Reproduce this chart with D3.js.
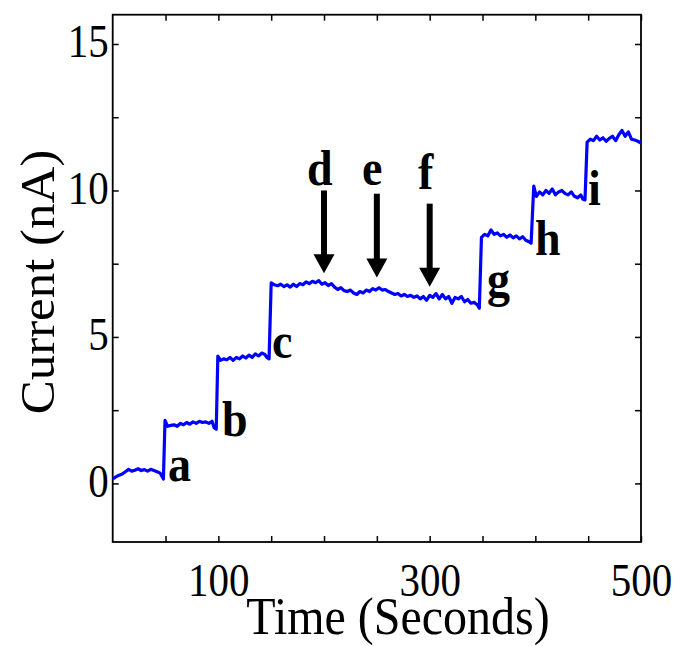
<!DOCTYPE html>
<html>
<head>
<meta charset="utf-8">
<script src="https://cdn.jsdelivr.net/npm/d3@7"></script>
<style>
  body { margin: 0; background: #fff; }
  text { font-family: "Liberation Serif", "Times New Roman", serif; }
</style>
</head>
<body>
<div id="chart-area"></div>
<script>

// current trace (seconds, nA)
let time = [
  0, 3, 6, 9, 12, 15, 18, 21, 24, 27, 30, 33, 36, 39, 42, 45, 48,
  49.5, 52, 55, 58, 61, 64, 67, 70, 73, 76, 79, 82, 85, 88, 91, 94, 96, 98,
  99.5, 102, 105, 108, 111, 114, 117, 120, 123, 126, 129, 132, 135, 138, 141, 144, 146, 148,
  150, 153, 156, 159, 162, 165, 168, 171, 174, 177, 180, 183, 186, 189, 192, 195, 198, 201, 204, 207,
  210, 213, 216, 219, 222, 225, 228, 231, 234, 237, 240, 243, 246, 249, 252, 255, 258, 261, 264, 267,
  270, 273, 276, 279, 282, 285, 288, 291, 294, 297, 300, 303, 306, 309, 312, 315, 318, 321, 324, 327,
  330, 333, 336, 339, 342, 345, 347,
  349, 352, 355, 358, 361, 364, 367, 370, 373, 376, 379, 382, 385, 388, 391, 394, 396,
  398.5, 401, 404, 407, 410, 413, 416, 419, 422, 425, 428, 431, 434, 437, 440, 443, 445, 447,
  449, 452, 455, 458, 461, 464, 467, 470, 473, 476, 479, 482, 485, 488, 491, 494, 497, 500
];

let current = [
  0.15, 0.22, 0.28, 0.32, 0.40, 0.48, 0.42, 0.45, 0.50, 0.44, 0.47, 0.42, 0.48, 0.44, 0.40, 0.35, 0.15,
  2.15, 1.95, 1.98, 2.00, 1.95, 2.05, 2.00, 2.08, 2.02, 2.10, 2.05, 2.12, 2.08, 2.10, 2.05, 2.12, 1.90, 1.85,
  4.35, 4.20, 4.25, 4.22, 4.30, 4.20, 4.30, 4.25, 4.35, 4.28, 4.38, 4.30, 4.42, 4.35, 4.45, 4.40, 4.30, 4.25,
  6.85, 6.78, 6.75, 6.80, 6.72, 6.78, 6.70, 6.80, 6.72, 6.82, 6.78, 6.88, 6.82, 6.90, 6.85, 6.92, 6.80, 6.85, 6.75, 6.82,
  6.70, 6.62, 6.68, 6.58, 6.55, 6.60, 6.50, 6.45, 6.55, 6.50, 6.60, 6.55, 6.65, 6.60, 6.68, 6.60, 6.62, 6.55, 6.50, 6.45,
  6.48, 6.40, 6.45, 6.38, 6.42, 6.35, 6.40, 6.30, 6.38, 6.25, 6.42, 6.35, 6.48, 6.30, 6.45, 6.30, 6.38, 6.15, 6.35, 6.30,
  6.38, 6.20, 6.28, 6.15, 6.18, 6.10, 5.98,
  8.40, 8.50, 8.45, 8.65, 8.50, 8.55, 8.45, 8.50, 8.40, 8.48, 8.38, 8.45, 8.35, 8.42, 8.30, 8.25, 8.20,
  10.15, 9.80, 9.95, 9.85, 10.00, 9.90, 10.05, 9.85, 9.95, 10.00, 9.90, 9.85, 9.95, 9.80, 9.75, 9.85, 9.70, 9.68,
  11.65, 11.75, 11.70, 11.85, 11.72, 11.80, 11.68, 11.78, 11.85, 11.70, 11.90, 12.05, 11.85, 12.00, 11.75, 11.72, 11.68, 11.62
];

// tick values
let xTicks = [50, 100, 150, 200, 250, 300, 350, 400, 450, 500];
let xTickLabels = [100, 300, 500];
let yTicks = [0, 2.5, 5, 7.5, 10, 12.5, 15];
let yTickLabels = [0, 5, 10, 15];

// letter annotations (anchor in data units)
let labelText = ["a", "b", "c", "d", "e", "f", "g", "h", "i"];
let labelTime = [52.3, 103.4, 150.8, 183.9, 235.9, 288.9, 354.2, 399.7, 449.8];
let labelCurrent = [0.09, 1.62, 4.28, 10.2, 10.2, 10.04, 6.39, 7.79, 9.49];

// arrows at d, e, f
let arrowTime = [200, 250, 300];
let arrowTop = [10.0, 9.89, 9.55];
let arrowTip = [7.17, 7.03, 6.71];

let width = 676,
    height = 646;
let margin = {top: 14.7, right: 35, bottom: 104, left: 112.7};
let w = width - margin.left - margin.right,
    h = height - margin.top - margin.bottom;

let svg = d3.select("#chart-area").append("svg")
    .attr("width", width)
    .attr("height", height);

let g = svg.append("g")
    .attr("transform", "translate(" + margin.left + "," + margin.top + ")");

let x = d3.scaleLinear().domain([0, 500]).range([0, w]);
let y = d3.scaleLinear().domain([-2, 16]).range([h, 0]);

// ticks on all four sides, pointing inward
function tickFmt(list) {
  return function(d) { return list.indexOf(d) >= 0 ? d : ""; };
}

let xAxis = g.append("g")
    .attr("transform", "translate(0," + h + ")")
    .call(d3.axisBottom(x).tickValues(xTicks).tickSize(-6).tickFormat(tickFmt(xTickLabels)));
let xTop = g.append("g")
    .call(d3.axisTop(x).tickValues(xTicks).tickSize(-6).tickFormat(""));
let yAxis = g.append("g")
    .call(d3.axisLeft(y).tickValues(yTicks).tickSize(-6).tickFormat(tickFmt(yTickLabels)));
let yRight = g.append("g")
    .attr("transform", "translate(" + w + ",0)")
    .call(d3.axisRight(y).tickValues(yTicks).tickSize(-6).tickFormat(""));

[xAxis, xTop, yAxis, yRight].forEach(function(a) {
  a.select(".domain").remove();
  a.attr("font-family", null);
  a.selectAll("line").attr("stroke", "#000").attr("stroke-width", 1.5);
  a.selectAll("text")
    .attr("font-size", 41)
    .attr("fill", "#000");
});

// the original lettering is a bit taller than wide
xAxis.selectAll("text")
    .attr("y", null).attr("dy", null)
    .attr("transform", "translate(0,54) scale(1,1.14)");
yAxis.selectAll("text")
    .attr("x", null).attr("dy", null)
    .attr("transform", "translate(-4,13) scale(1,1.15)");

// box
g.append("rect")
    .attr("width", w)
    .attr("height", h)
    .attr("fill", "none")
    .attr("stroke", "#000")
    .attr("stroke-width", 1.8);

// trace
let line = d3.line()
    .x(function(d, i) { return x(time[i]); })
    .y(function(d) { return y(d); });

g.append("path")
    .datum(current)
    .attr("d", line)
    .attr("fill", "none")
    .attr("stroke", "#0000ff")
    .attr("stroke-width", 3.2)
    .attr("stroke-linejoin", "round");

// arrows: shaft + head
let headLen = 19, headHalf = 10.5;

g.selectAll(".shaft")
    .data(arrowTime)
    .enter().append("line")
    .attr("class", "shaft")
    .attr("x1", function(d) { return x(d); })
    .attr("x2", function(d) { return x(d); })
    .attr("y1", function(d, i) { return y(arrowTop[i]); })
    .attr("y2", function(d, i) { return y(arrowTip[i]) - headLen + 1; })
    .attr("stroke", "#000")
    .attr("stroke-width", 6);

g.selectAll(".head")
    .data(arrowTime)
    .enter().append("path")
    .attr("class", "head")
    .attr("d", function(d, i) {
      let cx = x(d), ty = y(arrowTip[i]);
      return "M" + (cx - headHalf) + "," + (ty - headLen) +
             "L" + (cx + headHalf) + "," + (ty - headLen) +
             "L" + cx + "," + ty + "Z";
    })
    .attr("fill", "#000");

// letters
g.selectAll(".lbl")
    .data(labelText)
    .enter().append("text")
    .attr("class", "lbl")
    .attr("transform", function(d, i) {
      return "translate(" + x(labelTime[i]) + "," + y(labelCurrent[i]) + ") scale(1,1.08)";
    })
    .attr("font-size", 46)
    .attr("font-weight", "bold")
    .attr("fill", "#000")
    .text(function(d) { return d; });

// axis titles
svg.append("text")
    .attr("transform", "translate(398,634) scale(1,1.08)")
    .attr("text-anchor", "middle")
    .attr("font-size", 48)
    .text("Time (Seconds)");

svg.append("text")
    .attr("transform", "translate(54,282) rotate(-90) scale(1.04,1)")
    .attr("text-anchor", "middle")
    .attr("font-size", 49)
    .text("Current (nA)");

</script>
</body>
</html>
